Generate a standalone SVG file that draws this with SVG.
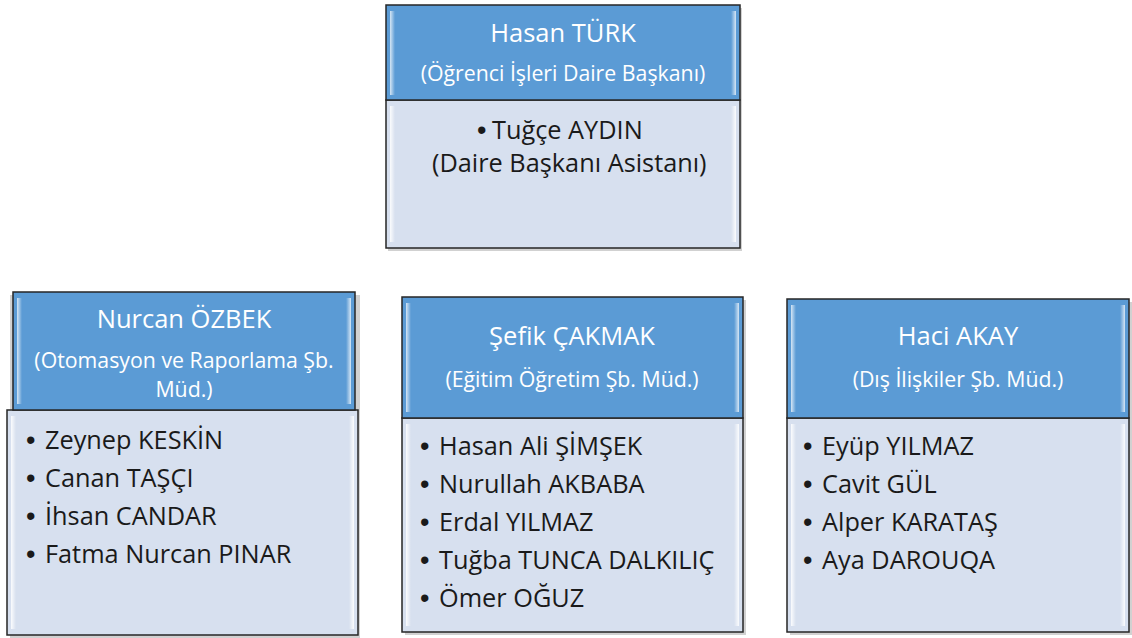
<svg xmlns="http://www.w3.org/2000/svg" width="1132" height="638" viewBox="0 0 1132 638">
<defs>
<style>
.hd{fill:#5b9bd5;stroke:#262626;stroke-width:1.5}
.bd{fill:#d7e0ef;stroke:#262626;stroke-width:1.5}
.sh{fill:#000;opacity:0.18}
.t{font-family:"Open Sans","Noto Sans",sans-serif}
.nm{font-size:25.5px;fill:#ffffff;text-anchor:middle}
.sub{font-size:21.3px;fill:#ffffff;text-anchor:middle}
.it{font-size:25.3px;fill:#1a1a1a}
.bu{font-family:"Liberation Sans",Arial,sans-serif;font-size:27px;fill:#1a1a1a}
.bhl{fill:url(#hlH)}
.bbl{fill:url(#hlB)}
</style>
<linearGradient id="hlH" x1="0" y1="0" x2="1" y2="0">
<stop offset="0" stop-color="#ffffff" stop-opacity="0.75"/>
<stop offset="1" stop-color="#ffffff" stop-opacity="0"/>
</linearGradient>
<linearGradient id="hlB" x1="0" y1="0" x2="1" y2="0">
<stop offset="0" stop-color="#ffffff" stop-opacity="0.9"/>
<stop offset="1" stop-color="#ffffff" stop-opacity="0"/>
</linearGradient>
</defs>
<rect width="1132" height="638" fill="#ffffff"/>
<g id="connectors"/>

<g id="node-hasan-turk">
<rect class="sh" x="388" y="8" width="354" height="243"/>
<rect class="bd" x="386" y="100" width="354" height="148"/>
<rect class="bbl" x="390" y="106" width="5" height="136"/>
<rect class="bbl" x="731" y="106" width="5" height="136" transform="rotate(180 733.5 174)"/>
<rect class="hd" x="386" y="5" width="354" height="95"/>
<rect class="bhl" x="390" y="11" width="5" height="84"/>
<rect class="bhl" x="731" y="11" width="5" height="84" transform="rotate(180 733.5 53)"/>
<text class="t nm" x="563" y="42">Hasan TÜRK</text>
<text class="t sub" x="563" y="81">(Öğrenci İşleri Daire Başkanı)</text>
<text class="bu" x="477" y="139">•</text>
<text class="t it" x="492" y="139">Tuğçe AYDIN</text>
<text class="t it" x="432" y="172">(Daire Başkanı Asistanı)</text>
</g>

<g id="node-nurcan-ozbek">
<rect class="sh" x="10" y="295" width="350" height="343"/>
<rect class="bd" x="7" y="410" width="351" height="225"/>
<rect class="bbl" x="11" y="416" width="5" height="213"/>
<rect class="bbl" x="349" y="416" width="5" height="213" transform="rotate(180 351.5 522.5)"/>
<rect class="hd" x="13" y="292" width="342" height="118"/>
<rect class="bhl" x="17" y="298" width="5" height="106"/>
<rect class="bhl" x="346" y="298" width="5" height="106" transform="rotate(180 348.5 351)"/>
<text class="t nm" x="184" y="328">Nurcan ÖZBEK</text>
<text class="t sub" x="184" y="368">(Otomasyon ve Raporlama Şb.</text>
<text class="t sub" x="184" y="397">Müd.)</text>
<text class="bu" x="26" y="449">•</text>
<text class="bu" x="26" y="487">•</text>
<text class="bu" x="26" y="525">•</text>
<text class="bu" x="26" y="563">•</text>
<text class="t it" x="45" y="449">Zeynep KESKİN</text>
<text class="t it" x="45" y="487">Canan TAŞÇI</text>
<text class="t it" x="45" y="525">İhsan CANDAR</text>
<text class="t it" x="45" y="563">Fatma Nurcan PINAR</text>
</g>

<g id="node-sefik-cakmak">
<rect class="sh" x="405" y="300" width="341" height="335"/>
<rect class="bd" x="402" y="418" width="341" height="214"/>
<rect class="bbl" x="406" y="424" width="5" height="202"/>
<rect class="bbl" x="734" y="424" width="5" height="202" transform="rotate(180 736.5 525)"/>
<rect class="hd" x="402" y="297" width="341" height="121"/>
<rect class="bhl" x="406" y="303" width="5" height="109"/>
<rect class="bhl" x="734" y="303" width="5" height="109" transform="rotate(180 736.5 357.5)"/>
<text class="t nm" x="572" y="345">Şefik ÇAKMAK</text>
<text class="t sub" x="572" y="387">(Eğitim Öğretim Şb. Müd.)</text>
<text class="bu" x="420" y="455">•</text>
<text class="bu" x="420" y="493">•</text>
<text class="bu" x="420" y="531">•</text>
<text class="bu" x="420" y="569">•</text>
<text class="bu" x="420" y="607">•</text>
<text class="t it" x="439" y="455">Hasan Ali ŞİMŞEK</text>
<text class="t it" x="439" y="493">Nurullah AKBABA</text>
<text class="t it" x="439" y="531">Erdal YILMAZ</text>
<text class="t it" x="439" y="569">Tuğba TUNCA DALKILIÇ</text>
<text class="t it" x="439" y="607">Ömer OĞUZ</text>
</g>

<g id="node-haci-akay">
<rect class="sh" x="790" y="302" width="342" height="333"/>
<rect class="bd" x="787" y="418" width="342" height="214"/>
<rect class="bbl" x="791" y="424" width="5" height="202"/>
<rect class="bbl" x="1120" y="424" width="5" height="202" transform="rotate(180 1122.5 525)"/>
<rect class="hd" x="787" y="299" width="342" height="119"/>
<rect class="bhl" x="791" y="305" width="5" height="107"/>
<rect class="bhl" x="1120" y="305" width="5" height="107" transform="rotate(180 1122.5 358.5)"/>
<text class="t nm" x="958" y="345">Haci AKAY</text>
<text class="t sub" x="958" y="387">(Dış İlişkiler Şb. Müd.)</text>
<text class="bu" x="803" y="455">•</text>
<text class="bu" x="803" y="493">•</text>
<text class="bu" x="803" y="531">•</text>
<text class="bu" x="803" y="569">•</text>
<text class="t it" x="822" y="455">Eyüp YILMAZ</text>
<text class="t it" x="822" y="493">Cavit GÜL</text>
<text class="t it" x="822" y="531">Alper KARATAŞ</text>
<text class="t it" x="822" y="569">Aya DAROUQA</text>
</g>
</svg>
